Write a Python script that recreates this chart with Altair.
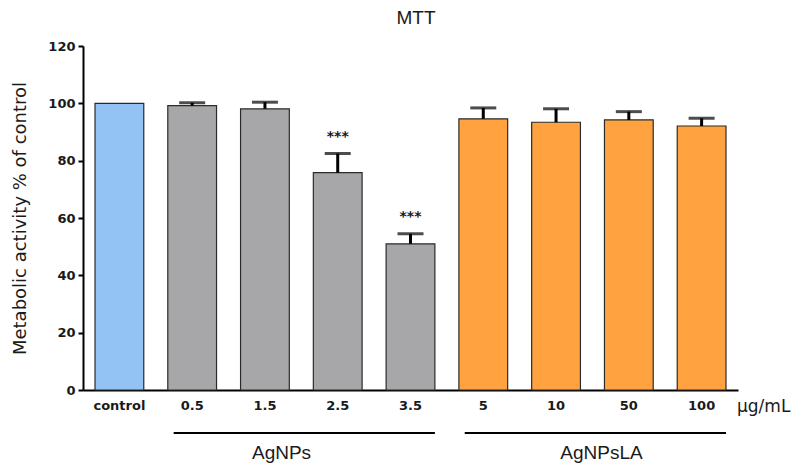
import altair as alt
import pandas as pd

# ---------------- data ----------------
categories = ["control", "0.5", "1.5", "2.5", "3.5", "5", "10", "50", "100"]
groups = ["Control", "AgNPs", "AgNPs", "AgNPs", "AgNPs",
          "AgNPsLA", "AgNPsLA", "AgNPsLA", "AgNPsLA"]
means = [100.0, 99.2, 98.1, 75.8, 51.0, 94.6, 93.4, 94.2, 92.1]
sds = [0.0, 1.0, 2.3, 6.7, 3.5, 3.8, 4.7, 2.9, 2.7]
stars = ["", "", "", "***", "***", "", "", "", ""]

group_names = ["AgNPs", "AgNPsLA"]
group_first = ["0.5", "5"]
group_last = ["3.5", "100"]
group_label_anchor = ["1.5", "50"]

y_ticks = [0, 20, 40, 60, 80, 100, 120]
chart_title = "MTT"
y_title = "Metabolic activity % of control"
unit_label = "µg/mL"

color_domain = ["Control", "AgNPs", "AgNPsLA"]
color_range = ["#93C2F5", "#A7A7AA", "#FFA23F"]

df = pd.DataFrame({
    "cat": categories,
    "group": groups,
    "mean": means,
    "sd": sds,
    "star": stars,
})
df["top"] = df["mean"] + df["sd"]

gdf = pd.DataFrame({"name": group_names, "first": group_first, "last": group_last,
                    "anchor": group_label_anchor})

W, H = 655, 344

xscale = alt.Scale(domain=categories, paddingInner=0.33, paddingOuter=0.165)
yscale = alt.Scale(domain=[0, 120], nice=False)

x_enc = alt.X(
    "cat:N", scale=xscale, sort=categories,
    axis=alt.Axis(
        title=None, labelAngle=0, ticks=False, tickSize=0, labelPadding=9,
        labelFont="DejaVu Sans", labelFontWeight="bold", labelFontSize=13,
        labelColor="#1a1a1a", domainColor="#000000", domainWidth=2,
    ),
)
y_enc = alt.Y(
    "mean:Q", scale=yscale,
    axis=alt.Axis(
        values=y_ticks, grid=False, tickSize=5, tickWidth=2, tickColor="#000000",
        domainColor="#000000", domainWidth=2, labelPadding=3,
        labelFont="DejaVu Sans", labelFontWeight="bold", labelFontSize=13,
        labelColor="#1a1a1a",
        title=y_title, titleFont="DejaVu Sans", titleFontWeight="normal",
        titleFontSize=18, titleColor="#1a1a1a", titlePadding=18,
    ),
)

base = alt.Chart(df)

bars = base.mark_bar(stroke="#2b2b2b", strokeWidth=1.2).encode(
    x=x_enc,
    y=y_enc,
    color=alt.Color("group:N", scale=alt.Scale(domain=color_domain, range=color_range), legend=None),
)

err = base.transform_filter("datum.sd > 0").mark_rule(color="#000000", strokeWidth=3).encode(
    x=alt.X("cat:N", scale=xscale, sort=categories),
    y=alt.Y("mean:Q", scale=yscale),
    y2="top:Q",
)

caps = base.transform_filter("datum.sd > 0").mark_tick(
    color="#000000", size=26, thickness=3, orient="horizontal"
).encode(
    x=alt.X("cat:N", scale=xscale, sort=categories),
    y=alt.Y("top:Q", scale=yscale),
)

star_text = base.transform_filter("datum.star != ''").mark_text(
    font="DejaVu Sans", fontSize=14, fontWeight="bold", color="#1a1a1a",
    baseline="middle", dy=-17,
).encode(
    x=alt.X("cat:N", scale=xscale, sort=categories),
    y=alt.Y("top:Q", scale=yscale),
    text="star:N",
)

glines = alt.Chart(gdf).mark_rule(color="#000000", strokeWidth=2).encode(
    x=alt.X("first:N", scale=xscale, bandPosition=0.12),
    x2=alt.X2("last:N", bandPosition=1.0),
    y=alt.value(387),
)

glabel_a = alt.Chart(gdf).transform_filter(alt.datum.name == "AgNPs").mark_text(
    font="Liberation Sans", fontSize=19, color="#1a1a1a", baseline="middle"
).encode(
    x=alt.X("anchor:N", scale=xscale, bandPosition=0.84),
    y=alt.value(407),
    text="name:N",
)
glabel_b = alt.Chart(gdf).transform_filter(alt.datum.name == "AgNPsLA").mark_text(
    font="Liberation Sans", fontSize=19, color="#1a1a1a", baseline="middle", dx=-3
).encode(
    x=alt.X("anchor:N", scale=xscale, bandPosition=0.0),
    y=alt.value(407),
    text="name:N",
)

unit_df = pd.DataFrame({"anchor": ["100"], "label": [unit_label]})
unit_text = alt.Chart(unit_df).mark_text(
    font="DejaVu Sans", fontSize=17, color="#1a1a1a", align="left", baseline="middle", dx=11
).encode(
    x=alt.X("anchor:N", scale=xscale, bandPosition=1.0),
    y=alt.value(361),
    text="label:N",
)

title_df = pd.DataFrame({"label": [chart_title]})
title_text = alt.Chart(title_df).mark_text(
    font="Liberation Sans", fontSize=19, color="#1a1a1a", align="center", baseline="top"
).encode(
    x=alt.value(333),
    y=alt.value(-37),
    text="label:N",
)

chart = alt.layer(
    bars, err, caps, star_text, glines, glabel_a, glabel_b, unit_text, title_text
).properties(
    width=W, height=H,
    autosize=alt.AutoSizeParams(type="none"),
    padding={"left": 75, "top": 38, "right": 57, "bottom": 80},
).configure_view(stroke=None)

chart.save("out.html", embed_options={"renderer": "svg", "actions": False})
